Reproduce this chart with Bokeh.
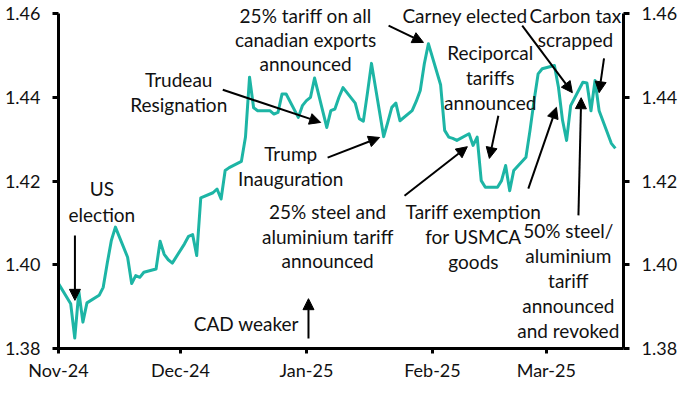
from datetime import datetime
from bokeh.plotting import figure
from bokeh.models import (Range1d, LinearAxis, Arrow, NormalHead, Label, FixedTicker,
                          DatetimeTickFormatter, NumeralTickFormatter)
from bokeh.embed import file_html
from bokeh.resources import INLINE

# ---------------- data ----------------
dates = [
    "2024-11-01", "2024-11-04", "2024-11-05", "2024-11-06", "2024-11-07", "2024-11-08",
    "2024-11-11", "2024-11-12", "2024-11-13", "2024-11-14", "2024-11-15",
    "2024-11-18", "2024-11-19", "2024-11-20", "2024-11-21", "2024-11-22",
    "2024-11-25", "2024-11-26", "2024-11-27", "2024-11-28", "2024-11-29",
    "2024-12-02", "2024-12-03", "2024-12-04", "2024-12-05", "2024-12-06",
    "2024-12-09", "2024-12-10", "2024-12-11", "2024-12-12", "2024-12-13",
    "2024-12-16", "2024-12-17", "2024-12-18", "2024-12-19", "2024-12-20",
    "2024-12-23", "2024-12-24", "2024-12-25", "2024-12-26", "2024-12-27",
    "2024-12-30", "2024-12-31", "2025-01-01", "2025-01-02", "2025-01-03",
    "2025-01-06", "2025-01-07", "2025-01-08", "2025-01-09", "2025-01-10",
    "2025-01-13", "2025-01-14", "2025-01-15", "2025-01-16", "2025-01-17",
    "2025-01-20", "2025-01-21", "2025-01-22", "2025-01-23", "2025-01-24",
    "2025-01-27", "2025-01-28", "2025-01-29", "2025-01-30", "2025-01-31",
    "2025-02-03", "2025-02-04", "2025-02-05", "2025-02-06", "2025-02-07",
    "2025-02-10", "2025-02-11", "2025-02-12", "2025-02-13", "2025-02-14",
    "2025-02-17", "2025-02-18", "2025-02-19", "2025-02-20", "2025-02-21",
    "2025-02-24", "2025-02-25", "2025-02-26", "2025-02-27", "2025-02-28",
    "2025-03-03", "2025-03-04", "2025-03-05", "2025-03-06", "2025-03-07",
    "2025-03-10", "2025-03-11", "2025-03-12", "2025-03-13", "2025-03-14",
    "2025-03-17", "2025-03-18",
]
usdcad = [
    1.3955, 1.3907, 1.3825, 1.3936, 1.3863, 1.3909,
    1.3927, 1.3946, 1.4004, 1.4058, 1.4090,
    1.4018, 1.3955, 1.3974, 1.3970, 1.3982,
    1.3990, 1.4056, 1.4025, 1.4012, 1.4004,
    1.4050, 1.4068, 1.4072, 1.4022, 1.4160,
    1.4172, 1.4181, 1.4157, 1.4225, 1.4232,
    1.4247, 1.4305, 1.4448, 1.4375, 1.4368,
    1.4368, 1.4360, 1.4364, 1.4408, 1.4408,
    1.4352, 1.4380, 1.4392, 1.4400, 1.4446,
    1.4328, 1.4368, 1.4372, 1.4400, 1.4423,
    1.4386, 1.4349, 1.4343, 1.4410, 1.4481,
    1.4306, 1.4340, 1.4376, 1.4386, 1.4344,
    1.4368, 1.4390, 1.4416, 1.4480, 1.4528,
    1.4430, 1.4321, 1.4305, 1.4302, 1.4297,
    1.4313, 1.4285, 1.4305, 1.4201, 1.4185,
    1.4185, 1.4201, 1.4237, 1.4177, 1.4225,
    1.4257, 1.4321, 1.4392, 1.4456, 1.4468,
    1.4476, 1.4424, 1.4345, 1.4297, 1.4380,
    1.4436, 1.4434, 1.4368, 1.4440, 1.4368,
    1.4290, 1.4278,
]
x_tick_dates = ["2024-11-01", "2024-12-01", "2025-01-01", "2025-02-01", "2025-03-01"]
y_ticks = [1.38, 1.40, 1.42, 1.44, 1.46]
x_start, x_end = "2024-11-01", "2025-03-20"
y_axis_min, y_axis_max = 1.38, 1.46
y_view_max = 1.4624  # a little headroom so the top annotations are not clipped

# annotations: (lines, x, [y per line])
notes = [
    (["US", "election"], "2024-11-11 16:00", [1.4182, 1.4120]),
    (["Trudeau", "Resignation"], "2024-11-30 14:00", [1.4442, 1.4383]),
    (["25% tariff on all", "canadian exports", "announced"], "2024-12-31 19:00", [1.4595, 1.4538, 1.4481]),
    (["Trump", "Inauguration"], "2024-12-28 03:00", [1.4266, 1.4206]),
    (["25% steel and", "aluminium tariff", "announced"], "2025-01-06 05:00", [1.4127, 1.4067, 1.4010]),
    (["Tariff exemption", "for USMCA", "goods"], "2025-02-11 02:00", [1.4127, 1.4067, 1.4008]),
    (["Reciporcal", "tariffs", "announced"], "2025-02-15 05:00", [1.4507, 1.4447, 1.4387]),
    (["Carney elected"], "2025-02-09 00:00", [1.4595]),
    (["Carbon tax", "scrapped"], "2025-03-08 04:00", [1.4595, 1.4538]),
    (["50% steel/", "aluminium", "tariff", "announced", "and revoked"], "2025-03-06 10:00",
     [1.4082, 1.4022, 1.3962, 1.3903, 1.3843]),
    (["CAD weaker"], "2024-12-17 05:00", [1.3860]),
]
# arrows: (x_start, y_start, x_end, y_end)
arrows = [
    ("2024-11-05 01:00", 1.4070, "2024-11-05 01:00", 1.3915),
    ("2024-12-11 10:00", 1.4418, "2025-01-04 12:00", 1.4340),
    ("2025-01-21 05:00", 1.4571, "2025-01-29 19:00", 1.4531),
    ("2025-01-06 05:00", 1.4256, "2025-01-19 00:00", 1.4304),
    ("2025-01-25 03:00", 1.4165, "2025-02-09 14:00", 1.4282),
    ("2025-02-24 14:00", 1.4182, "2025-03-03 12:00", 1.4376),
    ("2025-02-17 05:00", 1.4356, "2025-02-15 00:00", 1.4254),
    ("2025-02-23 02:00", 1.4571, "2025-03-07 10:00", 1.4411),
    ("2025-03-15 05:00", 1.4493, "2025-03-14 00:00", 1.4411),
    ("2025-03-08 22:00", 1.4118, "2025-03-09 14:00", 1.4399),
    ("2025-01-01 12:00", 1.3824, "2025-01-01 12:00", 1.3919),
]

EPOCH = datetime(1970, 1, 1)


def ms(s):
    fmt = "%Y-%m-%d %H:%M" if " " in s else "%Y-%m-%d"
    return (datetime.strptime(s, fmt) - EPOCH).total_seconds() * 1000.0


FONT = "Lato"
TEAL = "#1db5a5"

p = figure(width=680, height=390, x_axis_type="datetime",
           x_range=Range1d(ms(x_start), ms(x_end)), y_range=Range1d(y_axis_min, y_view_max),
           output_backend="svg", toolbar_location=None,
           min_border_left=58, min_border_right=57, min_border_top=3, min_border_bottom=42)
p.outline_line_color = None
p.xgrid.visible = False
p.ygrid.visible = False
p.background_fill_color = "white"
p.border_fill_color = "white"

p.line([ms(d) for d in dates], usdcad, line_color=TEAL, line_width=3, line_join="round")

# axes
p.xaxis.ticker = FixedTicker(ticks=[ms(d) for d in x_tick_dates])
p.xaxis.formatter = DatetimeTickFormatter(months="%b-%y", days="%b-%y")
p.yaxis.ticker = FixedTicker(ticks=y_ticks)
p.yaxis.formatter = NumeralTickFormatter(format="0.00")
p.yaxis.bounds = (y_axis_min, y_axis_max)

right = LinearAxis(ticker=FixedTicker(ticks=y_ticks), formatter=NumeralTickFormatter(format="0.00"),
                   bounds=(y_axis_min, y_axis_max))
p.add_layout(right, "right")

for ax in [p.xaxis[0], p.yaxis[0], right]:
    ax.axis_line_width = 3
    ax.axis_line_color = "black"
    ax.major_tick_line_width = 3
    ax.major_tick_line_color = "black"
    ax.major_tick_in = 0
    ax.minor_tick_line_color = None
    ax.major_label_text_font = FONT
    ax.major_label_text_font_size = "18px"
    ax.major_label_text_color = "#111111"

p.xaxis.major_tick_out = 5
p.xaxis.major_label_standoff = 5
p.yaxis[0].major_tick_out = 6
p.yaxis[0].major_label_standoff = 12
right.major_tick_out = 6
right.major_label_standoff = 12

for lines, x, ys in notes:
    for t, y in zip(lines, ys):
        p.add_layout(Label(x=ms(x), y=y, text=t, text_align="center", text_baseline="middle",
                           text_font=FONT, text_font_size="19px", text_color="#111111"))

for xs, ys, xe, ye in arrows:
    p.add_layout(Arrow(end=NormalHead(size=11, fill_color="black", line_color="black", line_width=1),
                       x_start=ms(xs), y_start=ys, x_end=ms(xe), y_end=ye,
                       line_color="black", line_width=2))

open("out.html", "w").write(file_html(p, INLINE))
